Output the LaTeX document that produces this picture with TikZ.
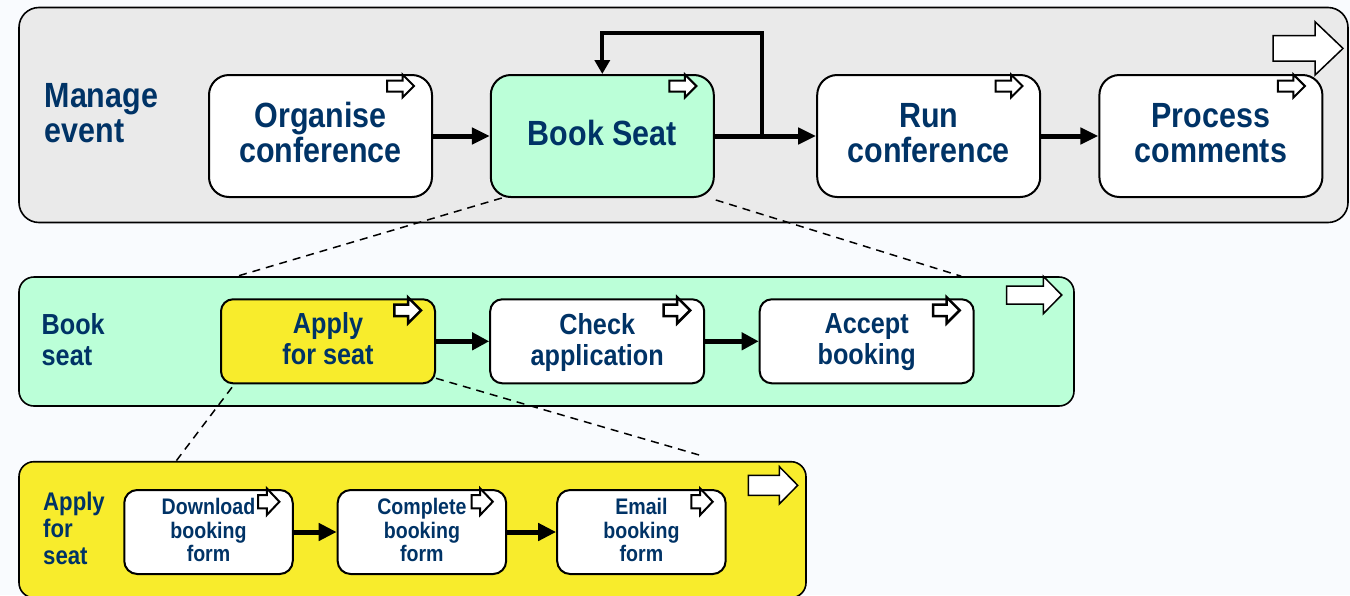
\documentclass[tikz,border=0pt]{standalone}
\usepackage{fontspec}
\setmainfont{Liberation Sans}[FakeStretch=0.87]
\usetikzlibrary{arrows.meta,calc}
\definecolor{bgc}{RGB}{249,251,254}
\definecolor{grayc}{RGB}{234,234,234}
\definecolor{mintc}{RGB}{187,255,216}
\definecolor{yelc}{RGB}{248,236,44}
\definecolor{navy}{RGB}{0,51,102}
% block arrow: tip x, centre y, total length, head length, shaft half, head half, line width
\newcommand{\blkarrow}[7]{%
  \filldraw[fill=white,draw=black,line width=#7,line join=miter,miter limit=10]
  ({#1-#3},{#2-#5}) -- ({#1-#4},{#2-#5}) -- ({#1-#4},{#2-#6}) -- (#1,#2) --
  ({#1-#4},{#2+#6}) -- ({#1-#4},{#2+#5}) -- ({#1-#3},{#2+#5}) -- cycle;}
\begin{document}
\begin{tikzpicture}[x=1pt,y=-1pt,
  cont/.style={draw=black,line width=1.6pt,inner sep=0pt},
  tbox/.style={draw=black,line width=2pt,rounded corners=20pt,minimum width=223pt,minimum height=122pt,inner sep=0pt},
  mbox/.style={draw=black,line width=2pt,rounded corners=12pt,minimum width=214pt,minimum height=84pt,inner sep=0pt},
  bbox/.style={draw=black,line width=2pt,rounded corners=13pt,minimum width=168.5pt,minimum height=84pt,inner sep=0pt,fill=white},
  ttxt/.style={text=navy,font=\fontsize{35}{35}\bfseries\selectfont,align=center,inner sep=0pt},
  mtxt/.style={text=navy,font=\fontsize{29}{31}\bfseries\selectfont,align=center,inner sep=0pt},
  btxt/.style={text=navy,font=\fontsize{22.5}{23.7}\bfseries\selectfont,align=center,inner sep=0pt},
  lbltxt/.style={text=navy,font=\fontsize{25.5}{27}\bfseries\selectfont,align=left,inner sep=0pt,anchor=west},
  flowt/.style={line width=5pt,-{Triangle[length=18pt,width=16pt]}},
  flowm/.style={line width=4.7pt,-{Triangle[length=17pt,width=17pt]}},
  flowb/.style={line width=5pt,-{Triangle[length=18pt,width=17pt]}},
  loopline/.style={line width=4pt,-{Triangle[length=14pt,width=15pt]}},
  zoomline/.style={line width=1.5pt,dash pattern=on 8pt off 6pt}
]
\fill[bgc] (0,0) rectangle (1350,595);
\useasboundingbox (0,0) rectangle (1350,595);

% containers
\node[cont,fill=grayc,rounded corners=20pt,minimum width=1329pt,minimum height=215pt] (mgr) at (683.5,115) {};
\node[cont,fill=mintc,rounded corners=15pt,minimum width=1055pt,minimum height=129pt] (bsc) at (546.5,341.5) {};
\node[cont,fill=yelc,rounded corners=15pt,minimum width=787pt,minimum height=136pt] (afc) at (412.5,529.7) {};

% container labels
\node[ttxt,align=left,anchor=west] (mgrt) at (44.5,113) {Manage\\event};
\node[mtxt,align=left,anchor=west] (bsct) at (41.5,340.1) {Book\\seat};
\node[lbltxt] (afct) at (43,527.9) {Apply\\for\\seat};

% top row
\node[tbox,fill=white] (org) at (320.5,136) {};
\node[tbox,fill=mintc] (bks) at (602.3,136) {};
\node[tbox,fill=white] (run) at (928.7,136) {};
\node[tbox,fill=white] (prc) at (1210.9,136) {};
\node[ttxt] (orgt) at (320.5,132.8) {Organise\\conference};
\node[ttxt] (bkst) at (602.3,132.5) {Book Seat};
\node[ttxt] (runt) at (928.7,133) {Run\\conference};
\node[ttxt] (prct) at (1210.9,133) {Process\\comments};

% middle row
\node[mbox,fill=yelc] (apf) at (328,341.3) {};
\node[mbox,fill=white] (chk) at (597.2,341.3) {};
\node[mbox,fill=white] (acc) at (866.7,341.3) {};
\node[mtxt] (apft) at (328,339.1) {Apply\\for seat};
\node[mtxt] (chkt) at (597.2,342) {Check\\application};
\node[mtxt] (acct) at (866.7,342) {Accept\\booking};

% bottom row
\node[bbox] (dl) at (208.5,532) {};
\node[bbox] (cp) at (421.9,532) {};
\node[bbox] (em) at (641.4,532) {};
\node[btxt] (dlt) at (208.5,530) {Download\\booking\\form};
\node[btxt] (cpt) at (421.9,530) {Complete\\booking\\form};
\node[btxt] (emt) at (641.4,530) {Email\\booking\\form};

% zoom (dashed) lines
\coordinate (z1) at ($(bsc.north west)+(219,0)$);
\coordinate (z2) at ($(bsc.north west)+(943,0)$);
\coordinate (z3) at ($(afc.north west)+(158,0)$);
\coordinate (z4) at ($(afc.north west)+(684,-5)$);
\draw[zoomline] ($(bks.south west)+(12,0)$) -- (z1);
\draw[zoomline] ($(bks.south east)+(1,2)$) -- (z2);
\draw[zoomline] ($(apf.south west)+(12,3)$) -- (z3);
\draw[zoomline] ($(apf.south east)+(0,-6)$) -- (z4);

% connectors
\coordinate (split) at (762,136);
\coordinate (looptop) at (762,33);
\draw[flowt] (org) -- (bks);
\draw[flowt] (bks) -- (run);
\draw[flowt] (run) -- (prc);
\draw[loopline] (split) -- (looptop) -| (bks.north);
\draw[flowm] (apf) -- (chk);
\draw[flowm] (chk) -- (acc);
\draw[flowb] (dl) -- (cp);
\draw[flowb] (cp) -- (em);

% small process icons
\blkarrow{414}{86}{27}{11.5}{5.5}{11.5}{2pt}
\blkarrow{696.4}{86}{27}{11.5}{5.5}{11.5}{2pt}
\blkarrow{1022.5}{86}{27}{11.5}{5.5}{11.5}{2pt}
\blkarrow{1304.9}{86}{27}{11.5}{5.5}{11.5}{2pt}
\blkarrow{421}{310.3}{26.7}{13}{5.8}{13}{2.5pt}
\blkarrow{690.2}{310.3}{26.7}{13}{5.8}{13}{2.5pt}
\blkarrow{959.7}{310.3}{26.7}{13}{5.8}{13}{2.5pt}
\blkarrow{279.4}{501.7}{21.3}{12.6}{6.7}{13.3}{2pt}
\blkarrow{492.8}{501.7}{21.3}{12.6}{6.7}{13.3}{2pt}
\blkarrow{712.7}{501.7}{21.3}{12.6}{6.7}{13.3}{2pt}

% large container icons
\blkarrow{1343}{48.4}{70}{28}{12.8}{26.7}{1.5pt}
\blkarrow{1061.7}{295}{55}{18.4}{9}{18.7}{1.5pt}
\blkarrow{797.7}{485.3}{49.4}{18.4}{10}{18.7}{1.5pt}
\end{tikzpicture}
\end{document}
